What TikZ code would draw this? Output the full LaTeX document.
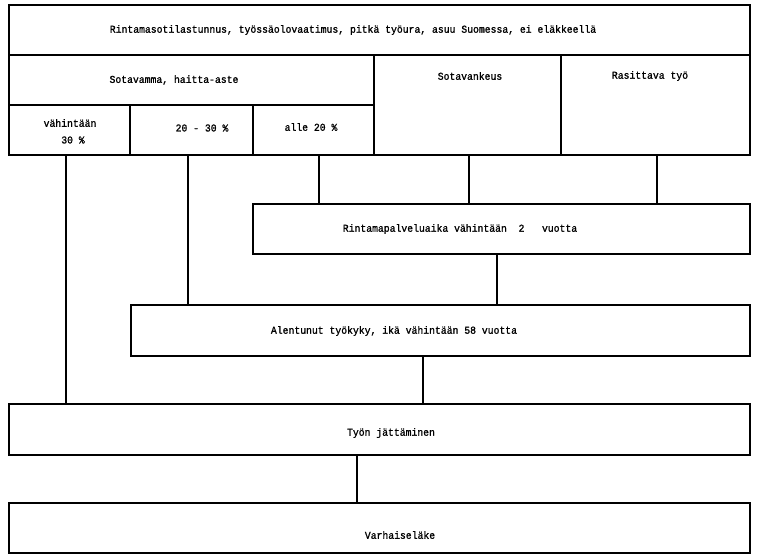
\documentclass[tikz,border=0pt]{standalone}
\usepackage{fontspec}
\setmonofont[FakeStretch=0.93,FakeBold=1.2]{Liberation Mono}
\begin{document}
\begin{tikzpicture}[x=1pt,y=-1pt,
  box/.style={draw, line width=1.5pt, inner sep=0pt, outer sep=0pt, anchor=north west},
  txt/.style={font=\ttfamily\fontsize{10.5}{12}\selectfont, inner sep=0pt, anchor=center},
  conn/.style={line width=1.5pt}]
\useasboundingbox (0,0) rectangle (757,555);
% boxes
\node[box, minimum width=741pt, minimum height=50pt] (top) at (9,5) {};
\node[box, minimum width=365pt, minimum height=50pt] (sv) at (9,55) {};
\node[box, minimum width=187pt, minimum height=100pt] (sk) at (374,55) {};
\node[box, minimum width=189pt, minimum height=100pt] (rt) at (561,55) {};
\node[box, minimum width=121pt, minimum height=50pt] (s1) at (9,105) {};
\node[box, minimum width=123pt, minimum height=50pt] (s2) at (130,105) {};
\node[box, minimum width=121pt, minimum height=50pt] (s3) at (253,105) {};
\node[box, minimum width=497pt, minimum height=50pt] (rp) at (253,204) {};
\node[box, minimum width=619pt, minimum height=51pt] (al) at (131,305) {};
\node[box, minimum width=741pt, minimum height=51pt] (tj) at (9,404) {};
\node[box, minimum width=741pt, minimum height=50pt] (vl) at (9,503) {};
% texts
\node[txt] (ttop) at (353,30) {Rintamasotilastunnus, työssäolovaatimus, pitkä työura, asuu Suomessa, ei eläkkeellä};
\node[txt] (tsv) at (174,80) {Sotavamma, haitta-aste};
\node[txt] (tsk) at (470,76) {Sotavankeus};
\node[txt] (trt) at (650,76) {Rasittava työ};
\node[txt] (ts1a) at (70,123) {vähintään};
\node[txt] (ts1b) at (73,140) {30 \%};
\node[txt] (ts2) at (202,128) {20 - 30 \%};
\node[txt] (ts3) at (311,127) {alle 20 \%};
\node[txt] (trp) at (460,229) {Rintamapalveluaika vähintään\ \ 2\ \ \ vuotta};
\node[txt] (tal) at (394,331) {Alentunut työkyky, ikä vähintään 58 vuotta};
\node[txt] (ttj) at (391,433) {Työn jättäminen};
\node[txt] (tvl) at (400,535) {Varhaiseläke};
% connectors
\draw[conn] (s1.south -| 66,0) -- (tj.north -| 66,0);
\draw[conn] (s2.south -| 188,0) -- (al.north -| 188,0);
\draw[conn] (s3.south -| 319,0) -- (rp.north -| 319,0);
\draw[conn] (sk.south -| 469,0) -- (rp.north -| 469,0);
\draw[conn] (rt.south -| 657,0) -- (rp.north -| 657,0);
\draw[conn] (rp.south -| 497,0) -- (al.north -| 497,0);
\draw[conn] (al.south -| 423,0) -- (tj.north -| 423,0);
\draw[conn] (tj.south -| 357,0) -- (vl.north -| 357,0);
\end{tikzpicture}
\end{document}
